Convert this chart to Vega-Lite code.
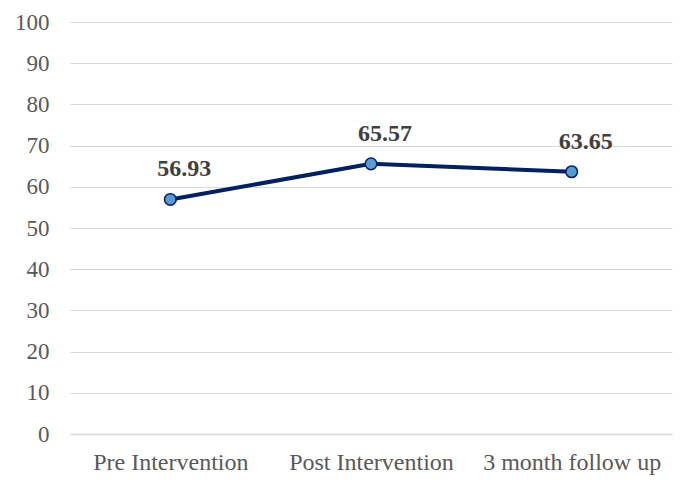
{
  "$schema": "https://vega.github.io/schema/vega-lite/v6.json",
  "autosize": "none",
  "width": 602,
  "height": 412,
  "padding": {"left": 70, "top": 22, "right": 13, "bottom": 46},
  "background": "white",
  "config": {
    "view": {"stroke": null},
    "font": "Liberation Serif",
    "axis": {"labelFont": "Liberation Serif", "labelFontSize": 23, "labelColor": "#595959", "ticks": false, "title": null},
    "axisX": {"labelAngle": 0, "labelFontSize": 24, "labelPadding": 16, "domainColor": "#d9d9d9", "domainWidth": 1.5, "grid": false},
    "axisY": {"domain": false, "gridColor": "#d9d9d9", "gridWidth": 1.2, "labelPadding": 21}
  },
  "data": {"values": [
    {"phase": "Pre Intervention", "score": 56.93},
    {"phase": "Post Intervention", "score": 65.57},
    {"phase": "3 month follow up", "score": 63.65}
  ]},
  "encoding": {
    "x": {"field": "phase", "type": "nominal", "sort": null, "title": null,
      "scale": {"paddingInner": 0, "paddingOuter": 0.5}},
    "y": {"field": "score", "type": "quantitative", "title": null,
      "scale": {"domain": [0, 100]},
      "axis": {"values": [0,10,20,30,40,50,60,70,80,90,100]}}
  },
  "layer": [
    {"mark": {"type": "line", "color": "#002060", "strokeWidth": 4}},
    {"mark": {"type": "point", "filled": true, "fill": "#5B9BD5", "stroke": "#002060", "strokeWidth": 1.5, "size": 135, "opacity": 1}},
    {"mark": {"type": "text", "dx": 14, "dy": -30, "fontSize": 24, "fontWeight": "bold", "font": "Liberation Serif", "color": "#404040"},
     "encoding": {"text": {"field": "score", "type": "quantitative", "format": ".2f"}}}
  ]
}
